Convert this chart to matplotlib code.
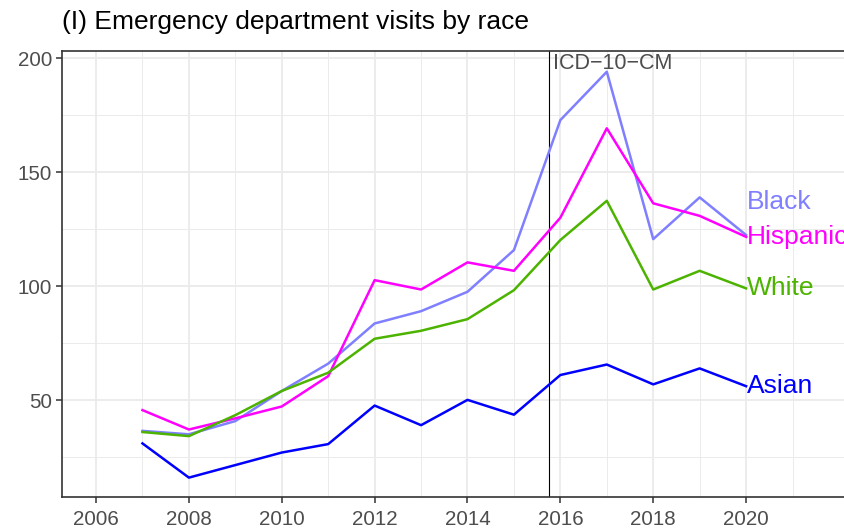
import matplotlib
matplotlib.use("Agg")
import matplotlib.pyplot as plt

plt.rcParams['font.family'] = ['Liberation Sans', 'DejaVu Sans']

years = list(range(2007, 2021))
black = [36.5, 35.0, 40.8, 54.0, 66.0, 83.6, 89.0, 97.5, 115.8, 172.8, 194.0, 120.6, 138.9, 122.4]
hispanic = [45.6, 37.1, 42.0, 47.2, 60.5, 102.6, 98.5, 110.4, 106.7, 130.0, 169.2, 136.3, 130.8, 121.6]
white = [36.0, 34.2, 43.4, 54.0, 62.0, 76.9, 80.4, 85.5, 98.2, 120.2, 137.4, 98.5, 106.7, 99.0]
asian = [31.0, 16.0, 21.5, 27.0, 30.7, 47.6, 39.0, 50.1, 43.6, 61.0, 65.6, 56.9, 63.9, 56.1]

groups = ['Black', 'Hispanic', 'White', 'Asian']
colors = ['#7F7FFF', '#FF00FF', '#4CB300', '#0000FF']
label_y = [137, 121.6, 99.0, 56.1]
icd_year = 2015.75

fig = plt.figure(figsize=(8.45, 5.3), dpi=100)
ax = fig.add_axes([62 / 845, 33 / 530, 1 - 62 / 845, (497 - 51) / 530])

for vals, col in zip([black, hispanic, white, asian], colors):
    ax.plot(years, vals, color=col, lw=1.8, zorder=3)

for name, col, ly in zip(groups, colors, label_y):
    ax.text(2020.02, ly, name, color=col, fontsize=19, va='center', ha='left',
            zorder=4)

ax.axvline(icd_year, color='black', lw=0.8, zorder=2)
ax.text(icd_year + 0.1, 197.6, 'ICD\u221210\u2212CM', color='#4D4D4D', fontsize=15.5,
        va='center', ha='left')

ax.set_xlim(2005.267, 2022.13)
ax.set_ylim(7.5, 203.1)
ax.set_xticks(range(2006, 2021, 2))
ax.set_xticks(range(2007, 2023, 2), minor=True)
ax.set_yticks([50, 100, 150, 200])
ax.set_yticks([25, 75, 125, 175], minor=True)
ax.grid(which='major', color='#EBEBEB', lw=1.3, zorder=0)
ax.grid(which='minor', color='#EBEBEB', lw=0.7, zorder=0)
ax.set_axisbelow(True)

for s in ['left', 'bottom', 'top']:
    ax.spines[s].set_color('#333333')
    ax.spines[s].set_linewidth(1.2)
ax.spines['right'].set_visible(False)
ax.tick_params(which='major', length=4, width=1.1, color='#333333',
               labelcolor='#4D4D4D', labelsize=14.8, pad=3)
ax.tick_params(axis='x', which='major', pad=5.5)
ax.tick_params(which='minor', length=0)

fig.text(62 / 845, 1 - 22 / 530, '(I) Emergency department visits by race',
         fontsize=19, va='center', ha='left', color='black')

fig.savefig('out.png', dpi=100)
